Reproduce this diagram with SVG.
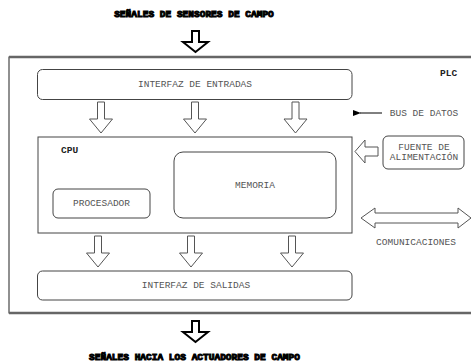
<svg xmlns="http://www.w3.org/2000/svg" width="471" height="363" viewBox="0 0 471 363">
<defs>
<style>
.box{fill:#fff;stroke:#444;stroke-width:1}
.lbl{font-family:"Liberation Mono","Courier New",monospace;font-size:9.5px;fill:#555;text-anchor:middle}
.bold{font-family:"Liberation Mono","Courier New",monospace;font-size:9.5px;font-weight:bold;fill:#222}
.title{font-family:"Liberation Mono","Courier New",monospace;font-size:9.5px;font-weight:bold;fill:#000;stroke:#000;stroke-width:1;text-anchor:middle}
.harrow{fill:#fff;stroke:#555;stroke-width:1}
.barrow{fill:#fff;stroke:#000;stroke-width:2}
</style>
<path id="dn" d="M-3.5,0 H3.5 V17 H11.5 L0,31 L-11.5,17 H-3.5 Z"/>
<path id="bdn" d="M-3.5,0 H3.5 V11 H12.5 L0,21 L-12.5,11 H-3.5 Z"/>
<marker id="ah" markerWidth="8" markerHeight="6" refX="1" refY="3" orient="auto" markerUnits="userSpaceOnUse">
<path d="M8,0 L0,3 L8,6 Z" fill="#000"/>
</marker>
</defs>
<rect width="471" height="363" fill="#fff"/>

<g id="titulo-entrada">
<text class="title" x="194" y="17">SEÑALES DE SENSORES DE CAMPO</text>
</g>
<g id="plc">
<rect x="9" y="57" width="470" height="256" fill="none" stroke="#222" stroke-width="1"/>
<line x1="9" y1="57" x2="471" y2="57" stroke="#666" stroke-width="2.5"/>
<line x1="9" y1="313" x2="471" y2="313" stroke="#666" stroke-width="2.5"/>
<text class="bold" x="440" y="76">PLC</text>
</g>
<g id="interfaz-entradas">
<rect class="box" x="37.5" y="69.5" width="314.5" height="30" rx="5"/>
<text class="lbl" x="195" y="87">INTERFAZ DE ENTRADAS</text>
</g>
<g id="cpu">
<rect class="box" x="38" y="137" width="314" height="96"/>
<text class="bold" x="61" y="153">CPU</text>
</g>
<g id="memoria">
<rect class="box" x="174" y="152" width="162" height="66" rx="9"/>
<text class="lbl" x="255" y="188">MEMORIA</text>
</g>
<g id="procesador">
<rect class="box" x="53" y="189" width="97" height="29" rx="5"/>
<text class="lbl" x="101.5" y="206">PROCESADOR</text>
</g>
<g id="fuente">
<rect class="box" x="383" y="136" width="81" height="33" rx="5"/>
<text class="lbl" x="424" y="150">FUENTE DE</text>
<text class="lbl" x="424" y="160">ALIMENTACIÓN</text>
</g>
<g id="interfaz-salidas">
<rect class="box" x="37.5" y="271" width="314.5" height="29" rx="5"/>
<text class="lbl" x="196" y="288">INTERFAZ DE SALIDAS</text>
</g>
<g id="bus-datos">
<text class="lbl" x="424" y="116">BUS DE DATOS</text>
</g>
<g id="comunicaciones">
<text class="lbl" x="416" y="245">COMUNICACIONES</text>
</g>
<g id="titulo-salida">
<text class="title" x="194.5" y="360">SEÑALES HACIA LOS ACTUADORES DE CAMPO</text>
</g>

<g id="connectors">
<use href="#bdn" class="barrow" transform="translate(195.5,31)"/>
<use href="#dn" class="harrow" transform="translate(101,102)"/>
<use href="#dn" class="harrow" transform="translate(195,102)"/>
<use href="#dn" class="harrow" transform="translate(295.5,102)"/>
<use href="#dn" class="harrow" transform="translate(98,236)"/>
<use href="#dn" class="harrow" transform="translate(191,236)"/>
<use href="#dn" class="harrow" transform="translate(292,236)"/>
<use href="#bdn" class="barrow" transform="translate(195.5,321)"/>
<line x1="382" y1="113" x2="360" y2="113" stroke="#000" stroke-width="1" marker-end="url(#ah)"/>
<path class="harrow" d="M378,147 H365 V140 L355,151.5 L365,163 V156 H378 Z"/>
<path class="harrow" d="M361,218 L375,208 V213 H458 V208 L471,218 L458,228 V223 H375 V228 Z"/>
</g>
</svg>
